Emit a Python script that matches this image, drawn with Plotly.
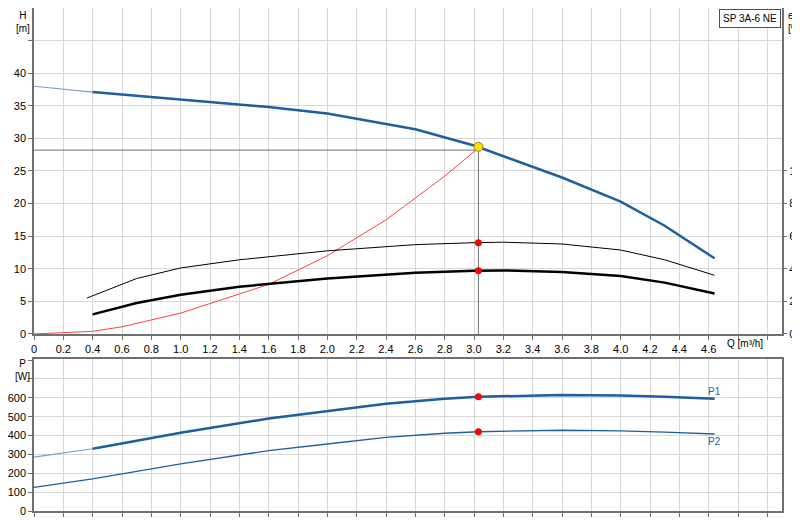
import plotly.graph_objects as go

# head curve H [m]
q_h = [0, 0.4, 1.0, 1.6, 2.0, 2.2, 2.6, 3.0, 3.2, 3.6, 4.0, 4.3, 4.64]
h = [38.0, 37.1, 36.0, 34.8, 33.8, 33.0, 31.4, 28.9, 27.3, 24.0, 20.3, 16.6, 11.6]
# efficiency curves eta [%]
q_eta = [0.36, 0.7, 1.0, 1.4, 2.0, 2.6, 3.0, 3.2, 3.6, 4.0, 4.3, 4.64]
eta_thin = [22, 34, 40.5, 45.5, 51, 54.8, 56, 56.3, 55.2, 51.5, 45.5, 36]
q_eta2 = [0.4, 0.7, 1.0, 1.4, 2.0, 2.6, 3.0, 3.2, 3.6, 4.0, 4.3, 4.64]
eta_thick = [12, 19, 24, 29, 34, 37.5, 38.8, 39, 38, 35.5, 31.5, 24.8]
# system curve
q_sys = [0, 0.4, 0.6, 1.0, 1.6, 2.0, 2.4, 2.8, 3.03]
h_sys = [0, 0.4, 1.1, 3.2, 7.6, 12.0, 17.5, 24.2, 28.5]
# power curves P [W]
q_p = [0, 0.4, 1.0, 1.6, 2.0, 2.4, 2.8, 3.03, 3.6, 4.0, 4.3, 4.64]
p1 = [285, 330, 415, 490, 530, 568, 595, 605, 615, 612, 605, 595]
p2 = [125, 170, 250, 320, 355, 390, 412, 420, 428, 425, 418, 408]
# duty point
q_duty = 3.03
h_duty = 28.7
h_line = 28.2
eta_duty = [56, 38.8]
p_duty = [605, 420]

blue = "#1f5fa0"
fig = go.Figure()

fig.add_trace(go.Scatter(x=q_h, y=h, mode="lines", line=dict(color="#7f9fc4", width=1.2), xaxis="x", yaxis="y"))
fig.add_trace(go.Scatter(x=q_h[1:], y=h[1:], mode="lines", line=dict(color=blue, width=2.5), xaxis="x", yaxis="y"))
fig.add_trace(go.Scatter(x=q_sys, y=h_sys, mode="lines", line=dict(color="#ff4040", width=1), xaxis="x", yaxis="y"))
fig.add_trace(go.Scatter(x=[0, q_duty, q_duty], y=[h_line, h_line, 0], mode="lines",
                         line=dict(color="#707070", width=1), xaxis="x", yaxis="y"))
fig.add_trace(go.Scatter(x=q_eta, y=eta_thin, mode="lines", line=dict(color="black", width=1), xaxis="x", yaxis="y2"))
fig.add_trace(go.Scatter(x=q_eta2, y=eta_thick, mode="lines", line=dict(color="black", width=2.5), xaxis="x", yaxis="y2"))
fig.add_trace(go.Scatter(x=[q_duty, q_duty], y=eta_duty, mode="markers",
                         marker=dict(color="red", size=7), xaxis="x", yaxis="y2"))
fig.add_trace(go.Scatter(x=[q_duty], y=[h_duty], mode="markers",
                         marker=dict(color="#ffe000", size=9, line=dict(color="#c08000", width=1)), xaxis="x", yaxis="y"))

fig.add_trace(go.Scatter(x=q_p, y=p1, mode="lines", line=dict(color="#7f9fc4", width=1.2), xaxis="x2", yaxis="y3"))
fig.add_trace(go.Scatter(x=q_p[1:], y=p1[1:], mode="lines", line=dict(color=blue, width=2.5), xaxis="x2", yaxis="y3"))
fig.add_trace(go.Scatter(x=q_p, y=p2, mode="lines", line=dict(color=blue, width=1.3), xaxis="x2", yaxis="y3"))
fig.add_trace(go.Scatter(x=[q_duty, q_duty], y=p_duty, mode="markers",
                         marker=dict(color="red", size=7), xaxis="x2", yaxis="y3"))

xt = [round(0.2 * i, 1) for i in range(26)]
xtext = ["0"] + [f"{v:.1f}" if v <= 4.6 else "" for v in xt[1:]]
grid = "#d8d8d8"
axcol = "#707070"
common = dict(showgrid=True, gridcolor=grid, showline=True, linecolor=axcol, linewidth=1.5,
              mirror=True, zeroline=False, ticks="outside", ticklen=4, tickcolor=axcol, automargin=False)

fig.update_layout(
    width=800, height=520, margin=dict(l=26, r=26, t=0, b=17),
    paper_bgcolor="white", plot_bgcolor="white", showlegend=False,
    font=dict(family="Liberation Sans, Arial", size=11, color="black"),
    xaxis=dict(range=[0, 5.1], tickvals=xt, ticktext=xtext, domain=[0, 1], anchor="y", **common),
    yaxis=dict(range=[0, 50], tickvals=list(range(0, 50, 5)),
               ticktext=[str(v) for v in range(0, 45, 5)] + [""], domain=[0.352, 1], **common),
    yaxis2=dict(range=[0, 200], overlaying="y", side="right", tickvals=list(range(0, 101, 20)),
                showgrid=False, zeroline=False, ticks="outside", ticklen=4, tickcolor=axcol, automargin=False),
    xaxis2=dict(range=[0, 5.1], tickvals=xt, showticklabels=False, domain=[0, 1], anchor="y3", **common),
    yaxis3=dict(range=[0, 805], tickvals=list(range(0, 801, 100)),
                ticktext=[str(v) for v in range(0, 601, 100)] + ["", ""], domain=[0, 0.302], **common),
)

fig.add_annotation(text="H<br>[m]", xref="paper", yref="paper", x=-0.003, y=1.0, xanchor="right", yanchor="top",
                   showarrow=False, align="center", font=dict(size=10))
fig.add_annotation(text="eta<br>[%]", xref="paper", yref="paper", x=1.006, y=1.0, xanchor="left", yanchor="top",
                   showarrow=False, align="left", font=dict(size=10))
fig.add_annotation(text="P<br>[W]", xref="paper", yref="paper", x=-0.003, y=0.308, xanchor="right", yanchor="top",
                   showarrow=False, align="center", font=dict(size=10))
fig.add_annotation(text="Q [m³/h]", xref="x", yref="paper", x=4.85, y=0.348, xanchor="center", yanchor="top",
                   showarrow=False, font=dict(size=10))
fig.add_annotation(text="SP 3A-6 NE", xref="paper", yref="paper", x=0.998, y=0.998, xanchor="right", yanchor="top",
                   showarrow=False, bgcolor="white", bordercolor="#505050", borderwidth=1, borderpad=3,
                   font=dict(size=10))
fig.add_annotation(text="P1", xref="x2", yref="y3", x=4.64, y=p1[-1], xanchor="center", yanchor="bottom",
                   showarrow=False, font=dict(size=10, color=blue))
fig.add_annotation(text="P2", xref="x2", yref="y3", x=4.64, y=p2[-1], xanchor="center", yanchor="top",
                   showarrow=False, font=dict(size=10, color=blue))

fig.write_html("out.html")
